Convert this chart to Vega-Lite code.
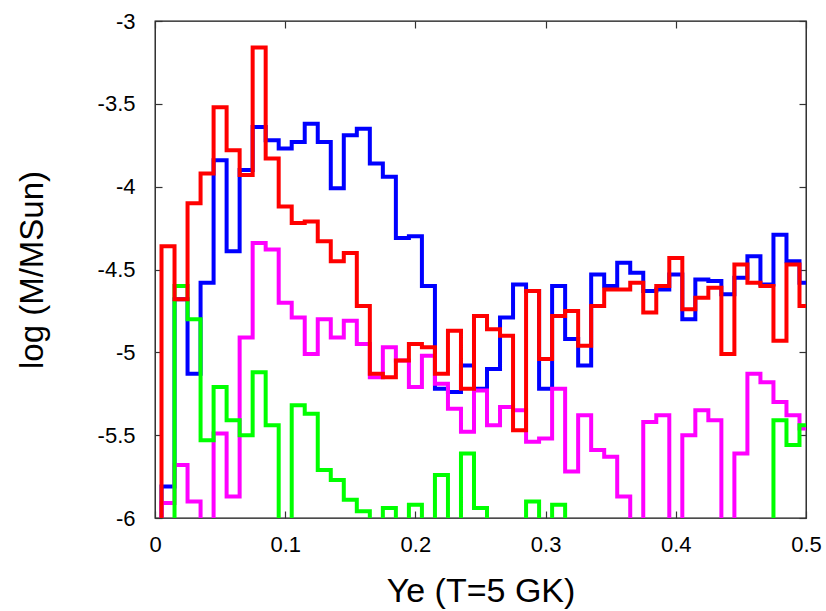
{
  "$schema": "https://vega.github.io/schema/vega-lite/v6.json",
  "width": 651,
  "height": 497,
  "autosize": {"type": "none"},
  "padding": {"left": 155, "top": 21, "right": 20, "bottom": 93},
  "background": "#ffffff",
  "config": {
    "view": {"stroke": "#111111", "strokeWidth": 1.3},
    "font": "Liberation Sans",
    "axis": {"grid": false, "domain": false, "labelFont": "Liberation Sans", "titleFont": "Liberation Sans", "labelColor": "#000000", "titleColor": "#000000", "tickColor": "#333333", "tickWidth": 1.2, "labelFlush": false, "labelOverlap": false, "labelBound": false, "titleFontWeight": "normal"}
  },
  "datasets": {
    "h": [
      {"ye": 0.00, "b": -6.5, "r": -6.5, "m": -6.5, "g": -6.5},
      {"ye": 0.01, "b": -5.81, "r": -4.36, "m": -5.91, "g": -6.5},
      {"ye": 0.02, "b": -4.68, "r": -4.68, "m": -5.68, "g": -4.60},
      {"ye": 0.03, "b": -5.13, "r": -4.10, "m": -5.90, "g": -4.80},
      {"ye": 0.04, "b": -4.58, "r": -3.92, "m": -6.5, "g": -5.53},
      {"ye": 0.05, "b": -3.84, "r": -3.52, "m": -5.49, "g": -5.21},
      {"ye": 0.06, "b": -4.39, "r": -3.78, "m": -5.87, "g": -5.41},
      {"ye": 0.07, "b": -3.90, "r": -3.93, "m": -4.91, "g": -5.50},
      {"ye": 0.08, "b": -3.64, "r": -3.16, "m": -4.34, "g": -5.12},
      {"ye": 0.09, "b": -3.72, "r": -3.83, "m": -4.38, "g": -5.44},
      {"ye": 0.10, "b": -3.77, "r": -4.12, "m": -4.70, "g": -6.5},
      {"ye": 0.11, "b": -3.73, "r": -4.22, "m": -4.79, "g": -5.32},
      {"ye": 0.12, "b": -3.62, "r": -4.21, "m": -5.01, "g": -5.37},
      {"ye": 0.13, "b": -3.73, "r": -4.33, "m": -4.80, "g": -5.71},
      {"ye": 0.14, "b": -4.01, "r": -4.45, "m": -4.91, "g": -5.77},
      {"ye": 0.15, "b": -3.69, "r": -4.40, "m": -4.81, "g": -5.89},
      {"ye": 0.16, "b": -3.65, "r": -4.72, "m": -4.95, "g": -5.96},
      {"ye": 0.17, "b": -3.86, "r": -5.13, "m": -5.15, "g": -6.5},
      {"ye": 0.18, "b": -3.94, "r": -5.15, "m": -4.97, "g": -5.94},
      {"ye": 0.19, "b": -4.31, "r": -5.05, "m": -5.05, "g": -6.5},
      {"ye": 0.20, "b": -4.30, "r": -4.95, "m": -5.21, "g": -5.92},
      {"ye": 0.21, "b": -4.60, "r": -4.97, "m": -5.02, "g": -6.5},
      {"ye": 0.22, "b": -5.22, "r": -5.13, "m": -5.19, "g": -5.74},
      {"ye": 0.23, "b": -5.24, "r": -4.87, "m": -5.34, "g": -6.5},
      {"ye": 0.24, "b": -5.08, "r": -5.22, "m": -5.48, "g": -5.61},
      {"ye": 0.25, "b": -5.22, "r": -4.78, "m": -5.23, "g": -5.94},
      {"ye": 0.26, "b": -5.10, "r": -4.86, "m": -5.44, "g": -6.5},
      {"ye": 0.27, "b": -4.79, "r": -4.90, "m": -5.33, "g": -6.5},
      {"ye": 0.28, "b": -4.59, "r": -5.47, "m": -5.35, "g": -6.5},
      {"ye": 0.29, "b": -4.63, "r": -4.63, "m": -5.54, "g": -5.90},
      {"ye": 0.30, "b": -5.22, "r": -5.04, "m": -5.52, "g": -6.5},
      {"ye": 0.31, "b": -4.60, "r": -4.78, "m": -5.22, "g": -5.92},
      {"ye": 0.32, "b": -4.92, "r": -4.75, "m": -5.72, "g": -6.5},
      {"ye": 0.33, "b": -5.08, "r": -4.96, "m": -5.38, "g": -6.5},
      {"ye": 0.34, "b": -4.53, "r": -4.72, "m": -5.59, "g": -6.5},
      {"ye": 0.35, "b": -4.60, "r": -4.62, "m": -5.63, "g": -6.5},
      {"ye": 0.36, "b": -4.46, "r": -4.62, "m": -5.87, "g": -6.5},
      {"ye": 0.37, "b": -4.52, "r": -4.58, "m": -6.5, "g": -6.5},
      {"ye": 0.38, "b": -4.63, "r": -4.76, "m": -5.42, "g": -6.5},
      {"ye": 0.39, "b": -4.62, "r": -4.60, "m": -5.38, "g": -6.5},
      {"ye": 0.40, "b": -4.53, "r": -4.43, "m": -6.5, "g": -6.5},
      {"ye": 0.41, "b": -4.80, "r": -4.74, "m": -5.50, "g": -6.5},
      {"ye": 0.42, "b": -4.56, "r": -4.67, "m": -5.35, "g": -6.5},
      {"ye": 0.43, "b": -4.57, "r": -4.61, "m": -5.41, "g": -6.5},
      {"ye": 0.44, "b": -4.65, "r": -5.01, "m": -6.5, "g": -6.5},
      {"ye": 0.45, "b": -4.55, "r": -4.47, "m": -5.61, "g": -6.5},
      {"ye": 0.46, "b": -4.42, "r": -4.58, "m": -5.13, "g": -6.5},
      {"ye": 0.47, "b": -4.59, "r": -4.60, "m": -5.18, "g": -6.5},
      {"ye": 0.48, "b": -4.29, "r": -4.93, "m": -5.30, "g": -5.41},
      {"ye": 0.49, "b": -4.45, "r": -4.47, "m": -5.38, "g": -5.56},
      {"ye": 0.50, "b": -4.58, "r": -4.72, "m": -5.46, "g": -5.44}
    ]
  },
  "data": {"name": "h"},
  "layer": [
    {
      "encoding": {
        "x": {"field": "ye", "type": "quantitative", "scale": {"domain": [0, 0.5], "nice": false, "zero": false},
          "axis": {"orient": "bottom", "values": [0, 0.1, 0.2, 0.3, 0.4, 0.5], "format": "~g", "labelFontSize": 22, "tickSize": -7, "labelPadding": 23, "title": "Ye (T=5 GK)", "titleFontSize": 34, "titlePadding": 19}}
      },
      "layer": [
        {"mark": {"type": "line", "interpolate": "step", "clip": true, "color": "#0000ff", "strokeWidth": 4, "strokeJoin": "miter", "strokeCap": "square"},
         "encoding": {"y": {"field": "b", "type": "quantitative", "scale": {"domain": [-6, -3], "nice": false, "zero": false},
           "axis": {"orient": "left", "values": [-6, -5.5, -5, -4.5, -4, -3.5, -3], "labelExpr": "(datum.value < 0 ? '-' : '') + format(abs(datum.value), '~g')", "labelFontSize": 22, "tickSize": -7, "labelPadding": 27, "title": "log (M/MSun)", "titleFontSize": 33, "titlePadding": 48}}}},
        {"mark": {"type": "line", "interpolate": "step", "clip": true, "color": "#ff00ff", "strokeWidth": 4, "strokeJoin": "miter", "strokeCap": "square"},
         "encoding": {"y": {"field": "m", "type": "quantitative"}}},
        {"mark": {"type": "line", "interpolate": "step", "clip": true, "color": "#00ff00", "strokeWidth": 4, "strokeJoin": "miter", "strokeCap": "square"},
         "encoding": {"y": {"field": "g", "type": "quantitative"}}},
        {"mark": {"type": "line", "interpolate": "step", "clip": true, "color": "#ff0000", "strokeWidth": 4, "strokeJoin": "miter", "strokeCap": "square"},
         "encoding": {"y": {"field": "r", "type": "quantitative"}}}
      ]
    },
    {
      "mark": {"type": "point", "opacity": 0, "clip": true},
      "encoding": {
        "x": {"field": "ye", "type": "quantitative", "scale": {"domain": [0, 0.5], "nice": false, "zero": false},
          "axis": {"orient": "top", "values": [0, 0.1, 0.2, 0.3, 0.4, 0.5], "labels": false, "tickSize": -7, "title": null}},
        "y": {"field": "b", "type": "quantitative", "scale": {"domain": [-6, -3], "nice": false, "zero": false},
          "axis": {"orient": "right", "values": [-6, -5.5, -5, -4.5, -4, -3.5, -3], "labels": false, "tickSize": -7, "title": null}}
      }
    }
  ],
  "resolve": {"scale": {"x": "independent", "y": "independent"}, "axis": {"x": "independent", "y": "independent"}}
}
